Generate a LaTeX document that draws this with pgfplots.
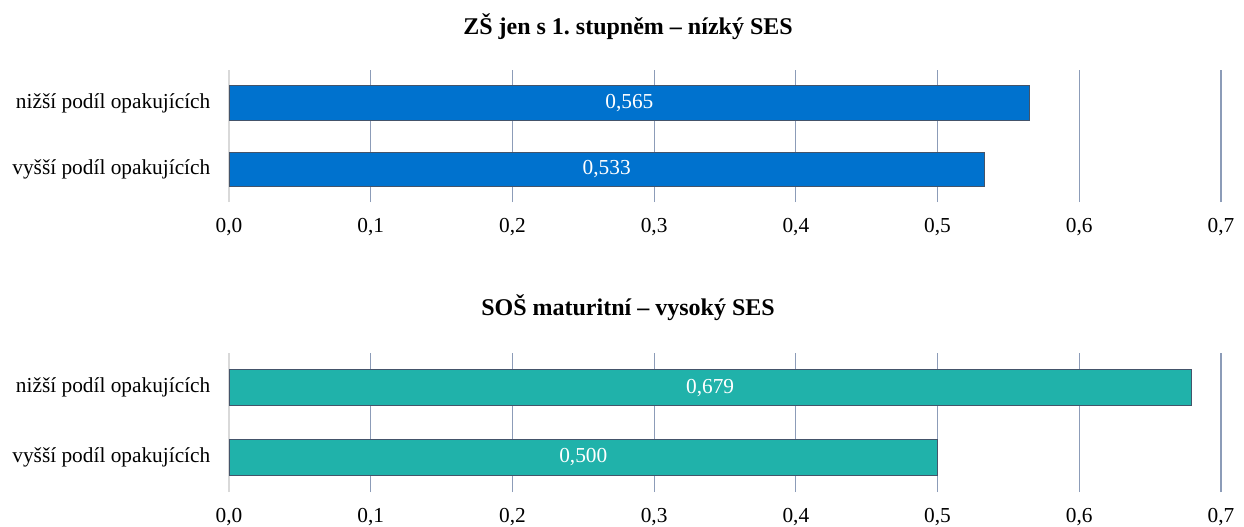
\documentclass[border=0pt]{standalone}
\usepackage{pgfplots}
\usepackage{pgfplotstable}
\pgfplotsset{compat=1.18}
\usepackage{fontspec}
\setmainfont{Liberation Serif}
\definecolor{barblue}{RGB}{0,114,206}
\definecolor{barteal}{RGB}{32,178,170}
\definecolor{baredge}{RGB}{68,84,106}
\definecolor{gridc}{RGB}{140,156,184}
\definecolor{zeroc}{RGB}{217,217,217}

\pgfplotstableread{
y v lbl
0 0.533 0,533
1 0.565 0,565
}\tabA
\pgfplotstableread{
y v lbl
0 0.500 0,500
1 0.679 0,679
}\tabB

\pgfplotsset{
  panel/.style={
    scale only axis, width=744pt,
    xmin=0, xmax=0.7, ymin=-0.5, ymax=1.5,
    axis line style={draw=none},
    xtick={0.1,0.2,0.3,0.4,0.5,0.6,0.7},
    extra x ticks={0},
    extra x tick style={grid style={zeroc, line width=1.5pt}},
    xmajorgrids,
    grid style={gridc, line width=0.9pt},
    xtick style={draw=none}, ytick style={draw=none},
    ytick={0,1},
    yticklabels={vyšší podíl opakujících, nižší podíl opakujících},
    tick label style={font=\fontsize{16}{19}\selectfont},
    xticklabel style={yshift=-9pt},
    yticklabel style={xshift=-10.5pt},
    /pgf/number format/use comma,
    /pgf/number format/fixed,
    /pgf/number format/fixed zerofill,
    /pgf/number format/precision=1,
    /pgf/number format/assume math mode=true,
  },
  lbl/.style={draw=none, mark=none, nodes near coords, point meta=explicit symbolic,
    nodes near coords style={anchor=center, text=white, font=\fontsize{16}{19}\selectfont}},
}

\begin{document}
\frenchspacing
\begin{tikzpicture}
\node[anchor=base, font=\bfseries\fontsize{18}{21}\selectfont] at (471pt,-26.25pt) {ZŠ jen s 1. stupněm – nízký SES};
\begin{axis}[panel, height=99pt, at={(171.75pt,-151.5pt)}, anchor=south west]
\addplot[xbar, bar width=25.5pt, fill=barblue, draw=baredge, line width=0.75pt] table[x=v, y=y] {\tabA};
\addplot[lbl] table[x expr=\thisrow{v}/2, y=y, meta=lbl] {\tabA};
\end{axis}
\node[anchor=base, font=\bfseries\fontsize{18}{21}\selectfont] at (471pt,-236.25pt) {SOŠ maturitní – vysoký SES};
\begin{axis}[panel, height=104.25pt, at={(171.75pt,-369pt)}, anchor=south west]
\addplot[xbar, bar width=27pt, fill=barteal, draw=baredge, line width=0.75pt] table[x=v, y=y] {\tabB};
\addplot[lbl] table[x expr=\thisrow{v}/2, y=y, meta=lbl] {\tabB};
\end{axis}
\pgfresetboundingbox
\path (0,0) rectangle (933pt,-395.25pt);
\end{tikzpicture}
\end{document}
